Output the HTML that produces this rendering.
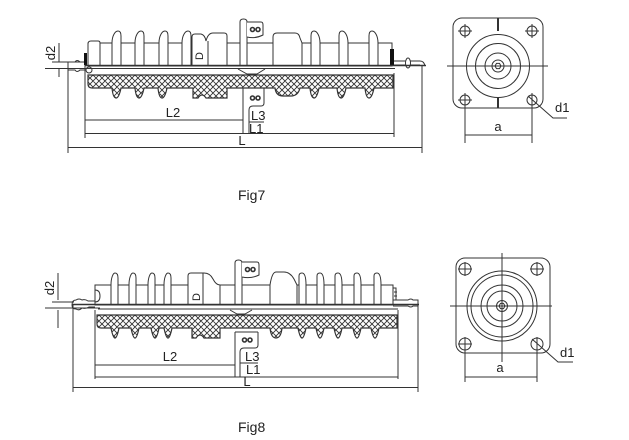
<!DOCTYPE html>
<html>
<head>
<meta charset="utf-8">
<style>
html,body{margin:0;padding:0;background:#fff;}
svg{display:block;}
text{font-family:"Liberation Sans",Arial,sans-serif;fill:#222;}
</style>
</head>
<body>
<svg width="629" height="440" viewBox="0 0 629 440" xmlns="http://www.w3.org/2000/svg">
<defs>
<pattern id="h" width="6" height="6" patternUnits="userSpaceOnUse">
<rect width="6" height="6" fill="#fff"/>
<path d="M0,0 L6,6 M6,0 L0,6 M-1,5 L1,7 M5,-1 L7,1 M-1,1 L1,-1 M5,7 L7,5" stroke="#333" stroke-width="0.9"/>
</pattern>
</defs>

<g fill="none" stroke="#333" stroke-width="1">

<!-- ================= FIG 7 ================= -->
<rect x="88" y="43" width="304" height="23" fill="#fff"/>
<path d="M88,66 L88,44 Q88,41 91,41 L98,41 Q100,41 100,43 L100,66" fill="#fff"/>
<path d="M112,66 L112,43 C112,36 115,31 118,31 C120,31 121,33 121,36 L121,66" fill="#fff"/>
<path d="M135,66 L135,43 C135,36 138,31 141,31 C143,31 144,33 144,36 L144,66" fill="#fff"/>
<path d="M159,66 L159,43 C159,36 162,31 165,31 C167,31 168,33 168,36 L168,66" fill="#fff"/>
<path d="M182,66 L182,43 C182,36 185,31 188,31 C190,31 191,33 191,36 L191,66" fill="#fff"/>
<path d="M192,66 L192,37 Q192,34 195,34 L201,34 Q205,35 206,41 Q208,33 213,33 L224,33 Q227,33 227,36 L227,66" fill="#fff"/>
<line x1="208" y1="41" x2="208" y2="66"/>
<text x="200" y="57" font-size="11" stroke="none" transform="rotate(-90 203 57)">D</text>
<path d="M240,66 L240,22 Q240,19 243.5,19 Q247,19 247,22 L247,66" fill="#fff"/>
<path d="M247,22 L261,22 Q263,22 263,25 L263,35 Q255,39 247,37" fill="#fff"/>
<circle cx="252.5" cy="29.5" r="2" stroke-width="1.6"/>
<circle cx="258" cy="29.5" r="2" stroke-width="1.6"/>
<path d="M273,66 L273,37 Q273,33 277,33 L295,33 Q299,33 300,38 L302,43 L302,66" fill="#fff"/>
<path d="M311,66 L311,36 C311,33 312,31 314,31 C317,31 320,36 320,43 L320,66" fill="#fff"/>
<path d="M339,66 L339,36 C339,33 340,31 342,31 C345,31 348,36 348,43 L348,66" fill="#fff"/>
<path d="M369,66 L369,36 C369,33 370,31 372,31 C375,31 378,36 378,43 L378,66" fill="#fff"/>
<rect x="390" y="49" width="4" height="17" fill="#111" stroke="none"/>
<path d="M394,61 L420,61 Q424,61 425,66"/>
<line x1="394" y1="65" x2="420" y2="65"/>
<ellipse cx="408" cy="63" rx="2.5" ry="5" fill="#fff"/>
<path d="M68,62 L75,62 Q77,59 80,62 L85,62 L85,70 L80,70 Q77,73 75,70 L68,70" fill="#fff"/>
<rect x="84" y="53" width="3" height="12" fill="#111" stroke="none"/>
<circle cx="89" cy="70" r="3"/>
<line x1="85" y1="65.5" x2="426" y2="65.5" stroke-width="1.4"/>
<line x1="45" y1="68.5" x2="395" y2="68.5"/>
<path d="M238,69 L247,74 L257,74 L265,69"/>
<path d="M88,75 L393,75 L393,88 L374,88 Q372,98 369,98 Q366,98 365,88 L346,88 Q344,98 341,98 Q338,98 337,88 L319,88 Q317,98 314,98 Q311,98 310,88 L300,88 Q298,96 291,96 L283,96 Q276,96 275,88 L227,88 L227,98 L206,98 Q202,92 198,98 L193,98 L193,88 L167,88 Q165,98 162,98 Q159,98 158,88 L144,88 Q142,98 139,98 Q136,98 135,88 L121,88 Q119,98 116,98 Q113,98 112,88 L92,88 Q88,88 88,84 Z" fill="url(#h)" stroke-width="1.2"/>
<path d="M243,88 L243,134 M264,88 L264,103 Q264,106 261,106 L253,106 Q249,106 249,110 L249,134" />
<path d="M243,88 L264,88" />
<circle cx="252.5" cy="98" r="2" stroke-width="1.6"/>
<circle cx="258" cy="98" r="2" stroke-width="1.6"/>
<line x1="59" y1="43" x2="59" y2="62"/>
<line x1="59" y1="68" x2="59" y2="77"/>
<line x1="52" y1="62" x2="80" y2="62"/>
<line x1="68" y1="62" x2="68" y2="153"/>
<line x1="85" y1="70" x2="85" y2="138"/>
<line x1="394" y1="73" x2="394" y2="137"/>
<line x1="422" y1="65" x2="422" y2="153"/>
<line x1="85" y1="120" x2="243" y2="120"/>
<line x1="249" y1="122" x2="264" y2="122"/>
<line x1="85" y1="133.5" x2="394" y2="133.5"/>
<line x1="68" y1="147.5" x2="422" y2="147.5"/>

<rect x="453" y="18" width="90" height="90" rx="9" ry="9"/>
<circle cx="498" cy="66" r="31.5"/>
<circle cx="498" cy="66" r="22.5"/>
<circle cx="498" cy="66" r="13"/>
<circle cx="498" cy="66" r="6"/>
<polygon points="501,66 499.5,68.6 496.5,68.6 495,66 496.5,63.4 499.5,63.4"/>
<line x1="447" y1="66" x2="548" y2="66"/>
<line x1="498" y1="18" x2="498" y2="31" stroke-width="2"/>
<line x1="498" y1="98" x2="498" y2="108" stroke-width="2"/>
<circle cx="465" cy="31" r="5"/>
<path d="M458,31 L472,31 M465,24 L465,38"/>
<circle cx="532" cy="31" r="5"/>
<path d="M525,31 L539,31 M532,24 L532,38"/>
<circle cx="465" cy="100" r="5"/>
<path d="M458,100 L472,100 M465,93 L465,143"/>
<circle cx="532" cy="100" r="5"/>
<path d="M532,93 L532,143 M528,96 L553,118 L567,118"/>
<line x1="465" y1="135" x2="532" y2="135"/>

<!-- ================= FIG 8 ================= -->
<rect x="95" y="285" width="298" height="20" fill="#fff"/>
<path d="M95,290 Q100,290 100,296 Q100,302 95,302"/>
<path d="M111,305 L111,285 C111,278 113,273 115,273 C117,273 118,275 118,278 L118,305" fill="#fff"/>
<path d="M129,305 L129,285 C129,278 131,273 133,273 C135,273 136,275 136,278 L136,305" fill="#fff"/>
<path d="M148,305 L148,285 C148,278 150,273 152,273 C154,273 155,275 155,278 L155,305" fill="#fff"/>
<path d="M164,305 L164,285 C164,278 166,273 168,273 C170,273 171,275 171,278 L171,305" fill="#fff"/>
<path d="M188,305 L188,276 Q188,273 191,273 L204,273 Q210,273 213,279 Q216,285 220,285 L220,305" fill="#fff"/>
<line x1="203" y1="273" x2="203" y2="305"/>
<text x="197" y="298" font-size="11" stroke="none" transform="rotate(-90 200 298)">D</text>
<path d="M235,305 L235,263 Q235,260 238.5,260 Q242,260 242,263 L242,305" fill="#fff"/>
<path d="M242,262 L257,262 Q259,262 259,265 L259,275 Q251,279 242,277" fill="#fff"/>
<circle cx="247.5" cy="269.5" r="2" stroke-width="1.6"/>
<circle cx="253" cy="269.5" r="2" stroke-width="1.6"/>
<path d="M270,305 L270,285 Q272,272 276,272 L284,272 Q290,272 294,279 L297,285 L297,305" fill="#fff"/>
<path d="M299,305 L299,276 C299,274 300,273 302,273 C305,273 306,278 306,285 L306,305" fill="#fff"/>
<path d="M317,305 L317,276 C317,274 318,273 320,273 C323,273 324,278 324,285 L324,305" fill="#fff"/>
<path d="M335,305 L335,276 C335,274 336,273 338,273 C341,273 342,278 342,285 L342,305" fill="#fff"/>
<path d="M354,305 L354,276 C354,274 355,273 357,273 C360,273 361,278 361,285 L361,305" fill="#fff"/>
<path d="M374,305 L374,276 C374,274 375,273 377,273 C380,273 381,278 381,285 L381,305" fill="#fff"/>
<path d="M393,288 L396,288 L396,300 M394,292 L397,292 M394,296 L397,296"/>
<path d="M393,300 L408,300 Q411,298 413,300 L418,300 L418,306 L413,306 Q411,308 408,306 L393,306"/>
<path d="M72,305 Q72,300 76,300 Q79,298 82,300 Q85,299 88,301 L95,301 M72,305 Q72,309 76,309 Q79,311 82,308 Q86,309 89,307 L95,307"/>
<line x1="72" y1="304.5" x2="419" y2="304.5" stroke-width="1.4"/>
<line x1="45" y1="308" x2="100" y2="308"/>
<line x1="98" y1="309" x2="398" y2="309"/>
<path d="M230,310 L237,314 L245,314 L252,310"/>
<path d="M97,315 L397,315 L397,328 L379,328 Q377,338 375,338 Q373,338 371,328 L361,328 Q359,338 357,338 Q355,338 353,328 L342,328 Q340,338 338,338 Q336,338 334,328 L324,328 Q322,338 320,338 Q318,338 316,328 L306,328 Q304,338 302,338 Q300,338 298,328 L282,328 Q281,338 276,338 Q271,338 270,328 L220,328 L220,338 L204,338 Q200,332 196,338 L192,338 L192,328 L172,328 Q170,338 168,338 Q166,338 164,328 L159,328 Q157,338 155,338 Q153,338 151,328 L139,328 Q137,338 135,338 Q133,338 131,328 L119,328 Q117,338 115,338 Q113,338 111,328 L101,328 Q97,328 97,324 Z" fill="url(#h)" stroke-width="1.2"/>
<path d="M235,332 L235,377 M258,332 L258,345 Q258,348 255,348 L244,348 Q240,348 240,352 L240,377 M235,332 L258,332"/>
<circle cx="244.5" cy="340" r="2" stroke-width="1.6"/>
<circle cx="250" cy="340" r="2" stroke-width="1.6"/>
<line x1="58" y1="273" x2="58" y2="300"/>
<line x1="58" y1="310" x2="58" y2="328"/>
<line x1="52" y1="302" x2="74" y2="302"/>
<line x1="73" y1="305" x2="73" y2="392"/>
<line x1="95" y1="310" x2="95" y2="379"/>
<line x1="398" y1="310" x2="398" y2="379"/>
<line x1="418" y1="305" x2="418" y2="392"/>
<line x1="95" y1="365" x2="235" y2="365"/>
<line x1="240" y1="363" x2="258" y2="363"/>
<line x1="95" y1="377" x2="398" y2="377"/>
<line x1="73" y1="387.5" x2="418" y2="387.5"/>

<rect x="456" y="258" width="94" height="95" rx="9" ry="9"/>
<circle cx="502" cy="306" r="35"/>
<circle cx="502" cy="306" r="31"/>
<circle cx="502" cy="306" r="21"/>
<circle cx="502" cy="306" r="15"/>
<circle cx="502" cy="306" r="5.5"/>
<polygon points="505,306 503.5,308.6 500.5,308.6 499,306 500.5,303.4 503.5,303.4"/>
<line x1="450" y1="306" x2="552" y2="306"/>
<line x1="502" y1="253" x2="502" y2="362"/>
<circle cx="465" cy="269" r="6"/>
<path d="M458,269 L472,269 M465,262 L465,276"/>
<circle cx="537" cy="269" r="6"/>
<path d="M530,269 L544,269 M537,262 L537,276"/>
<circle cx="465" cy="344" r="6"/>
<path d="M458,344 L472,344 M465,337 L465,382"/>
<circle cx="537" cy="344" r="6"/>
<path d="M537,337 L537,382 M532,339 L558,362 L573,362"/>
<line x1="465" y1="377" x2="537" y2="377"/>
</g>

<g stroke="none" font-size="13">
<text x="55" y="53" transform="rotate(-90 55 53)" text-anchor="middle">d2</text>
<text x="173" y="117" text-anchor="middle">L2</text>
<text x="251" y="120">L3</text>
<text x="249" y="133">L1</text>
<text x="242" y="145" text-anchor="middle">L</text>
<text x="498" y="131" text-anchor="middle">a</text>
<text x="555" y="112">d1</text>

<text x="54" y="288" transform="rotate(-90 54 288)" text-anchor="middle">d2</text>
<text x="170" y="361" text-anchor="middle">L2</text>
<text x="245" y="361">L3</text>
<text x="246" y="374">L1</text>
<text x="247" y="386" text-anchor="middle">L</text>
<text x="500" y="372" text-anchor="middle">a</text>
<text x="560" y="357">d1</text>

<text x="238" y="200" font-size="14">Fig7</text>
<text x="238" y="432" font-size="14">Fig8</text>
</g>
</svg>
</body>
</html>
